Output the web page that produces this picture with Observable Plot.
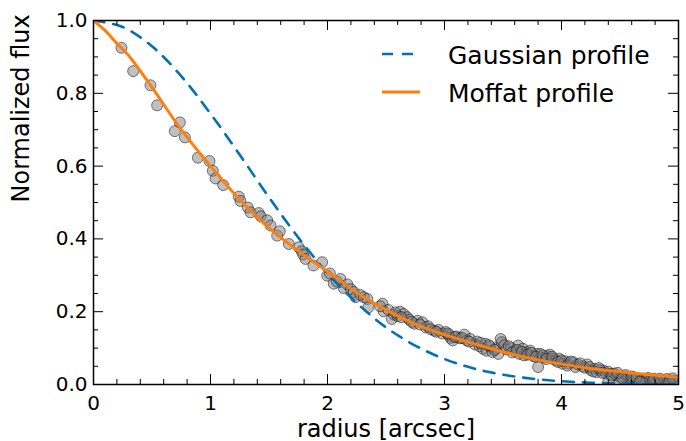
<!DOCTYPE html>
<html>
<head>
<meta charset="utf-8">
<script src="https://cdn.jsdelivr.net/npm/d3@7"></script>
<script src="https://cdn.jsdelivr.net/npm/@observablehq/plot@0.6"></script>
<style>
  body { margin: 0; background: #fff; }
  #wrap { position: relative; width: 686px; height: 441px; font-family: "DejaVu Sans", sans-serif; }
  #legend { position: absolute; left: 0; top: 0; pointer-events: none; }
</style>
</head>
<body>
<div id="wrap"></div>
<script>
// ---- data ----
const pointRadius = [0.239,0.339,0.487,0.544,0.695,0.738,0.781,0.892,0.991,1.02,1.043,1.108,1.242,1.256,
  1.32,1.342,1.413,1.43,1.485,1.513,1.57,1.592,1.67,1.755,1.78,1.792,1.812,1.88,1.954,1.997,
  2.02,2.054,2.08,2.11,2.139,2.17,2.2,2.225,2.24,2.28,2.31,2.34,2.35,2.47,2.48,2.52,2.55,2.57,2.6,2.62,2.65,2.68,2.7,2.74,2.77,2.81,2.84,2.86,2.91,2.95,2.98,
  3.01,3.04,3.05,3.07,3.1,3.13,3.17,3.19,3.22,3.26,3.28,3.3,3.33,3.35,3.36,3.39,3.41,3.44,3.46,3.48,3.49,3.51,3.53,3.57,3.6,3.63,3.64,3.67,3.68,3.7,3.73,3.76,3.79,3.8,3.82,3.85,3.88,3.9,3.93,3.95,3.98,
  4.01,4.03,4.06,4.1,4.12,4.14,4.18,4.2,4.22,4.25,4.28,4.3,4.33,4.36,4.38,4.4,4.42,4.45,4.47,4.5,4.53,4.55,4.57,4.59,4.62,4.65,4.68,4.7,4.72,4.74,4.76,4.79,4.82,4.85,4.88,4.9,4.93,4.96,4.98,
  4.4,4.5,4.6,4.7,4.8,4.9,5.0,
  2.45,2.58,2.63,2.72,2.79,2.88,2.93,3.03,3.09,3.15,3.21,3.31,3.38,3.43,3.55,3.58,3.62,3.66,3.71,3.74,3.78,3.84,3.87,3.92,3.97,
  4.0,4.05,4.08,4.16,4.24,4.27,4.32,4.35,4.43,4.48,4.52,4.6,4.64,4.67,4.78,4.84,4.92,4.95];
const pointFlux = [0.925,0.861,0.822,0.767,0.696,0.720,0.679,0.623,0.614,0.587,0.566,0.548,0.516,0.504,
  0.486,0.473,0.471,0.462,0.451,0.437,0.409,0.421,0.386,0.377,0.366,0.357,0.345,0.327,0.336,0.299,
  0.305,0.277,0.283,0.290,0.265,0.275,0.262,0.254,0.240,0.246,0.240,0.235,0.212,0.222,0.201,0.205,0.180,0.192,0.188,0.200,0.194,0.185,0.178,0.167,0.175,0.171,0.157,0.160,0.148,0.150,0.140,
  0.144,0.135,0.128,0.121,0.132,0.127,0.137,0.121,0.125,0.110,0.118,0.105,0.098,0.112,0.093,0.104,0.089,0.100,0.084,0.125,0.116,0.108,0.096,0.100,0.092,0.107,0.084,0.098,0.080,0.088,0.093,0.078,0.084,0.048,0.084,0.074,0.078,0.082,0.071,0.066,0.071,
  0.057,0.064,0.058,0.061,0.048,0.055,0.050,0.046,0.055,0.040,0.043,0.034,0.040,0.038,0.030,0.035,0.029,0.030,0.025,0.020,0.022,0.026,0.018,0.016,0.020,0.014,0.011,0.016,0.013,0.018,0.011,0.016,0.012,0.011,0.011,0.015,0.011,0.011,0.008,
  0.008,0.006,0.005,0.005,0.004,0.004,0.005,
  0.215,0.198,0.185,0.172,0.165,0.152,0.145,0.140,0.130,0.128,0.118,0.114,0.108,0.095,0.105,0.088,0.095,0.090,0.082,0.087,0.076,0.080,0.070,0.076,0.062,
  0.066,0.052,0.063,0.058,0.048,0.036,0.045,0.032,0.025,0.032,0.017,0.022,0.018,0.008,0.009,0.016,0.007,0.017];

const gaussRadius = [0,0.25,0.5,0.75,1.0,1.25,1.5,1.75,2.0,2.25,2.5,2.75,3.0,3.25,3.5,3.75,4.0,4.25,4.5,4.75,5.0];
const gaussFlux   = [1.0,0.982,0.929,0.847,0.744,0.631,0.514,0.404,0.306,0.224,0.157,0.107,0.070,0.044,0.027,0.016,0.009,0.005,0.003,0.001,0.001];

const moffatRadius = [0,0.1,0.2,0.3,0.5,0.75,1.0,1.25,1.5,1.75,2.0,2.25,2.5,2.75,3.0,3.25,3.5,3.75,4.0,4.25,4.5,4.75,5.0];
const moffatFlux   = [1.0,0.972,0.937,0.904,0.816,0.700,0.600,0.508,0.430,0.367,0.310,0.252,0.205,0.166,0.137,0.112,0.090,0.071,0.056,0.044,0.035,0.027,0.020];

const xMajorTicks = [0,1,2,3,4,5];
const xTickLabels = ["0","1","2","3","4","5"];
const xMinorTicks = [0.2,0.4,0.6,0.8,1.2,1.4,1.6,1.8,2.2,2.4,2.6,2.8,3.2,3.4,3.6,3.8,4.2,4.4,4.6,4.8];
const yMajorTicks = [0,0.2,0.4,0.6,0.8,1.0];
const yTickLabels = ["0.0","0.2","0.4","0.6","0.8","1.0"];
const yMinorTicks = [0.05,0.1,0.15,0.25,0.3,0.35,0.45,0.5,0.55,0.65,0.7,0.75,0.85,0.9,0.95];

const xLabel = "radius [arcsec]";
const yLabel = "Normalized flux";
const seriesNames = ["Gaussian profile","Moffat profile"];
const seriesColors = ["#0072b2","#ff7f0e"];

// ---- tables for Plot ----
const points = pointRadius.map((r,i) => ({r, f: pointFlux[i]}));
const gauss = gaussRadius.map((r,i) => ({r, f: gaussFlux[i]}));
const moffat = moffatRadius.map((r,i) => ({r, f: moffatFlux[i]}));

const W = 686, H = 441, mL = 93, mR = 8, mT = 20, mB = 57;
const plotW = W - mL - mR, plotH = H - mT - mB;
const majorLen = 10, minorLen = 5;
const dash = "11,9";

const chart = Plot.plot({
  width: W, height: H,
  marginLeft: mL, marginRight: mR, marginTop: mT, marginBottom: mB,
  style: {fontFamily: "DejaVu Sans, sans-serif", background: "white", color: "black", overflow: "visible"},
  x: {domain: [0,5]},
  y: {domain: [0,1]},
  marks: [
    Plot.dot(points, {x: "r", y: "f", r: 5.5, fill: "gray", fillOpacity: 0.5, stroke: "black", strokeOpacity: 0.5, strokeWidth: 1, clip: true}),
    Plot.line(gauss, {x: "r", y: "f", stroke: seriesColors[0], strokeWidth: 2.6, strokeDasharray: dash, curve: "catmull-rom", clip: true}),
    Plot.line(moffat, {x: "r", y: "f", stroke: seriesColors[1], strokeWidth: 3, curve: "catmull-rom", clip: true}),
    // inward ticks on all four sides
    Plot.tickX(xMajorTicks, {x: d => d, insetTop: plotH - majorLen, stroke: "black", strokeWidth: 1}),
    Plot.tickX(xMajorTicks, {x: d => d, insetBottom: plotH - majorLen, stroke: "black", strokeWidth: 1}),
    Plot.tickX(xMinorTicks, {x: d => d, insetTop: plotH - minorLen, stroke: "black", strokeWidth: 1}),
    Plot.tickX(xMinorTicks, {x: d => d, insetBottom: plotH - minorLen, stroke: "black", strokeWidth: 1}),
    Plot.tickY(yMajorTicks, {y: d => d, insetRight: plotW - majorLen, stroke: "black", strokeWidth: 1}),
    Plot.tickY(yMajorTicks, {y: d => d, insetLeft: plotW - majorLen, stroke: "black", strokeWidth: 1}),
    Plot.tickY(yMinorTicks, {y: d => d, insetRight: plotW - minorLen, stroke: "black", strokeWidth: 1}),
    Plot.tickY(yMinorTicks, {y: d => d, insetLeft: plotW - minorLen, stroke: "black", strokeWidth: 1}),
    Plot.frame({stroke: "black", strokeWidth: 1.5}),
    Plot.axisX({ticks: xMajorTicks, tickSize: 0, tickPadding: 11, fontSize: 20,
      tickFormat: d => xTickLabels[xMajorTicks.indexOf(d)], label: null}),
    Plot.axisY({ticks: yMajorTicks, tickSize: 0, tickPadding: 6, fontSize: 20,
      tickFormat: d => yTickLabels[yMajorTicks.findIndex(t => Math.abs(t - d) < 1e-9)], label: null}),
    Plot.text([xLabel], {text: d => d, frameAnchor: "bottom", dy: 52, fontSize: 24, fill: "black"}),
    Plot.text([yLabel], {text: d => d, frameAnchor: "left", dx: -72, rotate: -90, fontSize: 24, fill: "black"})
  ]
});

const wrap = document.getElementById("wrap");
wrap.appendChild(chart);

// legend overlay
const ns = "http://www.w3.org/2000/svg";
const leg = document.createElementNS(ns, "svg");
leg.setAttribute("id", "legend");
leg.setAttribute("width", W);
leg.setAttribute("height", H);
const legX0 = 382, legX1 = 420, legTextX = 448, legY0 = 54, legStep = 38;
seriesNames.forEach((name, i) => {
  const y = legY0 + i * legStep;
  const ln = document.createElementNS(ns, "line");
  ln.setAttribute("x1", legX0); ln.setAttribute("x2", legX1);
  ln.setAttribute("y1", y); ln.setAttribute("y2", y);
  ln.setAttribute("stroke", seriesColors[i]);
  ln.setAttribute("stroke-width", i === 0 ? 2.6 : 3);
  if (i === 0) ln.setAttribute("stroke-dasharray", dash);
  leg.appendChild(ln);
  const t = document.createElementNS(ns, "text");
  t.setAttribute("x", legTextX);
  t.setAttribute("y", y + 10);
  t.setAttribute("font-size", 25);
  t.setAttribute("font-family", "DejaVu Sans, sans-serif");
  t.setAttribute("fill", "black");
  t.textContent = name;
  leg.appendChild(t);
});
wrap.appendChild(leg);
</script>
</body>
</html>
